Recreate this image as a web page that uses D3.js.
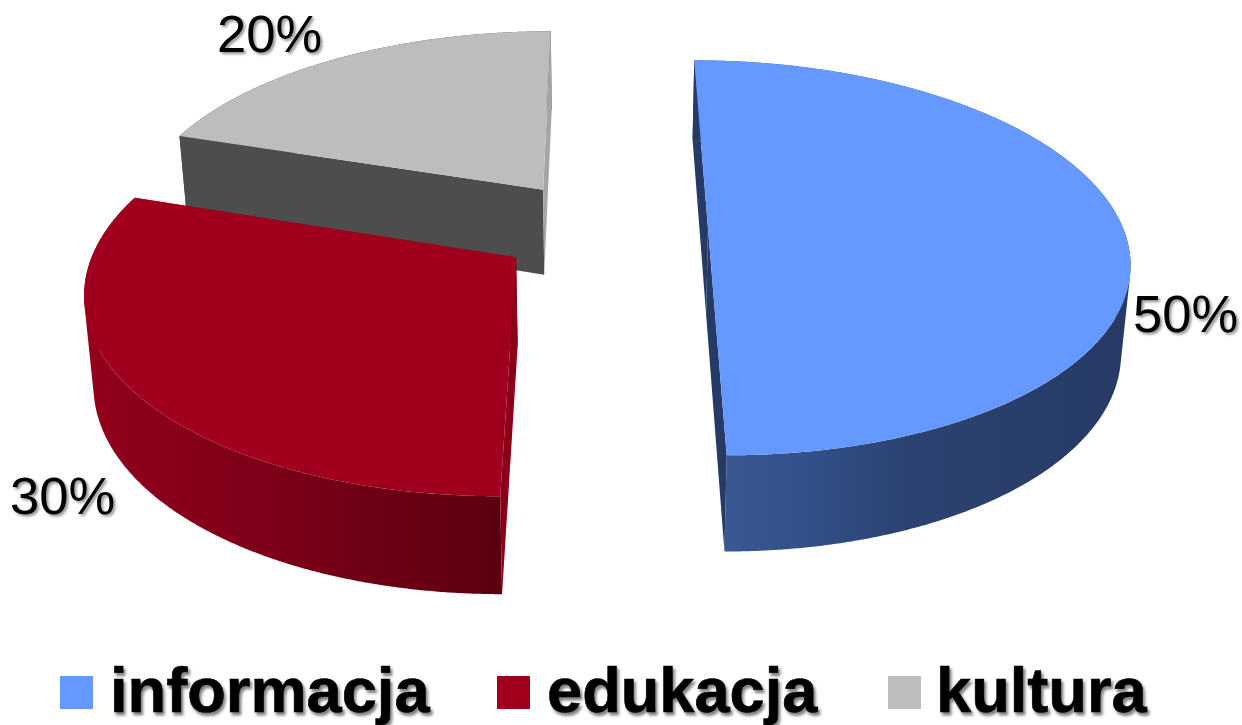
<!DOCTYPE html>
<html>
<head>
<meta charset="utf-8">
<script src="https://cdnjs.cloudflare.com/ajax/libs/d3/7.8.5/d3.min.js"></script>
<style>
  html, body { margin: 0; padding: 0; background: #fff; }
  text { font-family: "Liberation Sans", Arial, sans-serif; fill: #000; }
  .pct { font-size: 52.5px; text-shadow: 2px 2px 3px rgba(0,0,0,.45); }
  .leg { font-size: 63.2px; font-weight: bold; stroke: #000; stroke-width: 0.6px; text-shadow: 2px 3px 3px rgba(0,0,0,.5); }
</style>
</head>
<body>
<script>
const width = 1242;
const height = 725;

const categories = ['informacja', 'edukacja', 'kultura'];
const values = [50, 30, 20];

const topColours = ['#6699ff', '#a0001e', '#bdbdbd'];
const startCutColours = ['#263a66', '#8a0019', '#4d4d4d'];
const endCutColours = ['#263a66', '#8a0019', '#a6a6a6'];
const wallStops = [
  [[0, '#3b5b96'], [0.25, '#33508a'], [0.5, '#2b4270'], [1, '#273a65']],
  [[0, '#93001c'], [0.5, '#7a0017'], [1, '#5a000f']],
  [[0, '#4d4d4d'], [1, '#4d4d4d']]
];

// label anchors, by hand
const labelX = [1133, 10, 217];
const labelY = [332, 514, 52];
const legendX = [60, 497, 888];
const legendTextX = [50, 50, 48];

// perspective of the pie: ground plane to screen
const vanishX = 603;
const vanishY = -1050;
const planeH = 1278;
const depth = 2748;
const radius = 415;
const explode = 105;
const wallBase = 32.6;
const wallScale = 54;
const wallPinch = 0.982;

const project = (X, Y) => {
  const k = depth / (depth + Y);
  return { x: vanishX + X * k, y: vanishY + planeH * k, k };
};
const lower = (p) => [vanishX + (p.x - vanishX) * wallPinch, p.y + wallBase + wallScale * p.k];
const upper = (p) => [p.x, p.y];

const svg = d3.select('body').append('svg')
  .attr('width', width)
  .attr('height', height)
  .style('display', 'block');
const defs = svg.append('defs');
const line = d3.line();

const slices = d3.pie().sort(null)(values);

const drawSlice = (s) => {
  const i = s.index;
  const mid = (s.startAngle + s.endAngle) / 2;
  const cx = explode * Math.sin(mid);
  const cy = explode * Math.cos(mid);
  const angles = d3.range(s.startAngle, s.endAngle, 0.005).concat(s.endAngle);
  const rim = angles.map((a) => project(cx + radius * Math.sin(a), cy + radius * Math.cos(a)));
  const apex = project(cx, cy);
  const first = rim[0];
  const last = rim[rim.length - 1];

  const grad = defs.append('linearGradient')
    .attr('id', 'wall' + i)
    .attr('gradientUnits', 'userSpaceOnUse')
    .attr('x1', d3.min(rim, (p) => p.x))
    .attr('x2', d3.max(rim, (p) => p.x))
    .attr('y1', 0)
    .attr('y2', 0);
  grad.selectAll('stop').data(wallStops[i]).join('stop')
    .attr('offset', (d) => d[0])
    .attr('stop-color', (d) => d[1]);

  const g = svg.append('g').attr('class', 'slice');

  // outer wall, one quad per rim step, all wound the same way so the fold at the silhouette stays filled
  const quads = d3.pairs(rim).map(([a, b]) => {
    const quad = [upper(a), upper(b), lower(b), lower(a)];
    return d3.polygonArea(quad) < 0 ? quad.reverse() : quad;
  });
  g.append('path')
    .attr('d', quads.map((q) => line(q) + 'Z').join(''))
    .attr('fill', 'url(#wall' + i + ')');

  // cut faces at the start and end of the slice
  g.append('path')
    .attr('d', line([upper(apex), upper(first), lower(first), lower(apex)]) + 'Z')
    .attr('fill', startCutColours[i]);
  g.append('path')
    .attr('d', line([upper(apex), upper(last), lower(last), lower(apex)]) + 'Z')
    .attr('fill', endCutColours[i]);

  // top
  g.append('path')
    .attr('d', line([upper(apex)].concat(rim.map(upper))) + 'Z')
    .attr('fill', topColours[i]);
};

// back to front
[2, 1, 0].forEach((i) => drawSlice(slices[i]));

svg.selectAll('text.pct').data(values).join('text')
  .attr('class', 'pct')
  .attr('x', (d, i) => labelX[i])
  .attr('y', (d, i) => labelY[i])
  .text((d) => d + '%');

const legend = svg.selectAll('g.legend').data(categories).join('g')
  .attr('class', 'legend')
  .attr('transform', (d, i) => `translate(${legendX[i]},676)`);
legend.append('rect')
  .attr('width', 33)
  .attr('height', 33)
  .attr('fill', (d, i) => topColours[i]);
legend.append('text')
  .attr('class', 'leg')
  .attr('x', (d, i) => legendTextX[i])
  .attr('y', 36)
  .text((d) => d);
</script>
</body>
</html>
